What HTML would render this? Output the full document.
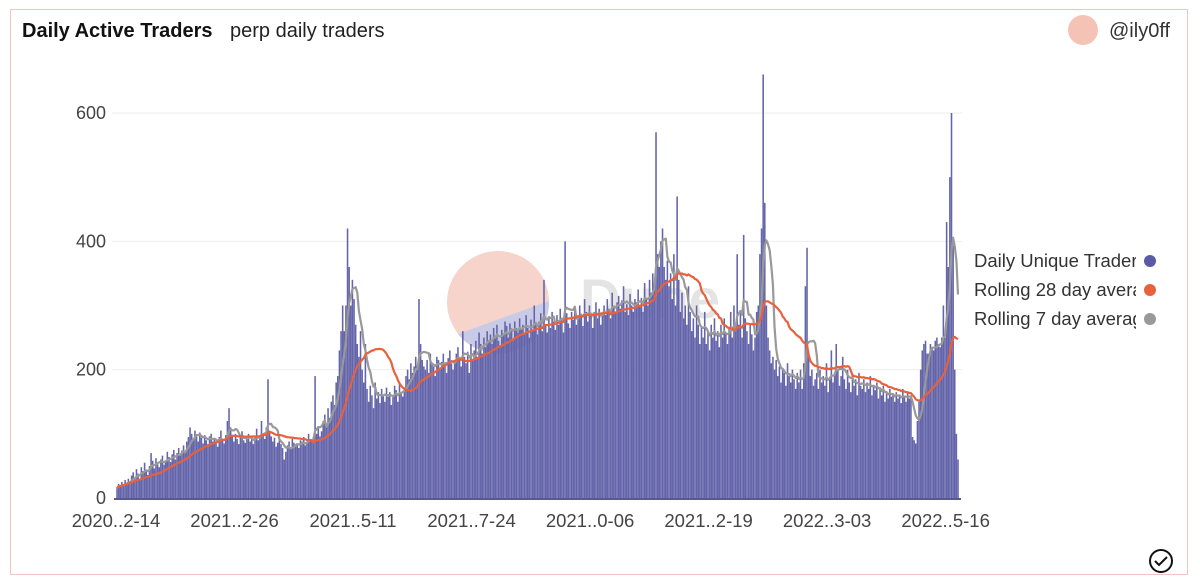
<!DOCTYPE html>
<html><head><meta charset="utf-8"><style>
body{margin:0;width:1200px;height:583px;background:#fff;font-family:"Liberation Sans",sans-serif;overflow:hidden}
#frame{position:absolute;left:10px;top:9px;width:1178px;height:566px;border:1.5px solid #f0c6be;box-sizing:border-box}
</style></head><body>
<div id="frame"></div>
<svg id="svg" width="1200" height="583" style="position:absolute;left:0;top:0">
<text x="22" y="37" font-size="20" font-weight="bold" fill="#111">Daily Active Traders</text>
<text x="230" y="37" font-size="20" fill="#222">perp daily traders</text>
<circle cx="1083" cy="30" r="15" fill="#f5c3b6"/>
<text x="1109" y="37" font-size="20" fill="#333">@ily0ff</text>
<g>
<circle cx="498" cy="302" r="51" fill="#f6d3cb"/>
<path d="M458,334 L549,301 A51,51 0 0 1 458,334 Z" fill="#c9cbe6"/>
<text x="580" y="318" font-size="56" font-weight="bold" fill="#e4e4e4">Dune</text>
</g>
<g id="grid"></g><g id="bars"></g><g id="lines"></g><g id="axes"></g>
<g>
<text x="974" y="267" font-size="18.5" fill="#333">Daily Unique Traders</text>
<rect x="1136" y="248" width="30" height="24" fill="#fff"/>
<circle cx="1150" cy="261" r="6" fill="#5a5aa6"/>
<text x="974" y="296" font-size="18.5" fill="#333">Rolling 28 day average</text>
<rect x="1136" y="277" width="30" height="24" fill="#fff"/>
<circle cx="1150" cy="290" r="6" fill="#e8603c"/>
<text x="974" y="325" font-size="18.5" fill="#333">Rolling 7 day average</text>
<rect x="1136" y="306" width="30" height="24" fill="#fff"/>
<circle cx="1150" cy="319" r="6" fill="#999"/>
</g>
<g><circle cx="1161" cy="561" r="11" fill="none" stroke="#111" stroke-width="2"/><path d="M1155,561 l4,4 l8,-8" fill="none" stroke="#111" stroke-width="2"/></g>
</svg>
<script>
const daily=[15,22,18,25,20,28,24,30,26,35,40,32,45,38,30,48,42,55,44,36,50,70,58,46,62,55,48,60,66,52,58,72,64,56,68,75,60,70,78,66,74,82,70,88,95,110,100,92,105,96,88,102,94,85,98,90,84,96,100,88,92,86,80,95,105,90,85,98,120,140,110,96,88,100,92,84,98,104,90,86,95,100,88,92,84,96,108,90,98,120,100,92,110,185,105,96,88,94,80,86,90,84,78,60,72,82,88,76,92,86,80,84,78,90,88,95,82,86,100,92,88,95,190,100,110,96,104,120,130,115,140,125,150,160,145,180,190,230,260,300,260,300,420,360,300,340,310,270,240,220,260,200,180,240,170,150,175,160,140,180,155,165,148,170,160,150,172,158,165,145,160,175,168,150,180,165,158,172,190,200,185,210,195,205,220,200,310,240,215,205,200,215,195,225,210,205,190,220,215,200,212,225,205,195,218,230,210,200,215,225,235,215,205,260,220,210,228,195,240,215,230,245,220,258,240,225,250,235,260,245,255,240,265,250,270,245,235,262,255,275,268,250,272,260,245,275,265,258,280,262,270,255,285,265,250,278,262,300,270,255,275,288,260,340,270,258,282,265,290,275,262,285,270,295,280,258,400,288,272,265,290,278,295,270,285,300,282,268,310,290,275,300,285,265,290,305,280,295,270,288,300,285,310,295,280,320,300,288,305,315,295,308,330,290,302,285,318,300,290,310,305,325,298,312,290,335,310,300,340,320,350,330,570,380,360,400,420,360,340,370,330,350,310,380,300,470,340,290,320,280,300,270,330,290,260,280,250,300,270,240,265,250,290,240,260,230,270,250,280,245,260,235,270,250,280,255,240,265,290,250,300,260,380,270,290,250,410,280,260,240,270,255,230,250,290,300,380,420,660,460,300,250,230,210,220,200,215,190,205,180,200,195,175,210,190,180,200,185,170,195,180,200,170,210,330,390,220,190,200,175,185,195,170,200,180,190,175,210,165,185,230,180,195,240,200,175,190,220,185,170,200,180,165,190,175,185,160,195,175,170,185,165,180,170,190,160,175,168,180,155,170,160,175,150,165,155,170,158,162,150,165,155,160,148,170,158,150,165,155,160,95,90,85,120,150,200,230,240,245,225,225,240,235,230,245,250,240,235,250,300,250,430,360,500,600,400,200,100,60];
const yTicks=[0,200,400,600];
const xTickLabels=["2020..2-14","2021..2-26","2021..5-11","2021..7-24","2021..0-06","2021..2-19","2022..3-03","2022..5-16"];
const xTickDays=[0,73,146,219,292,365,438,511];
const NS="http://www.w3.org/2000/svg";
const X0=117,X1=958,Y0=498,Y600=113;
const n=daily.length;
const x=d=>X0+d*(X1-X0)/(n-1);
const y=v=>Y0-v*(Y0-Y600)/600;
function mk(t,a,p){const e=document.createElementNS(NS,t);for(const k in a)e.setAttribute(k,a[k]);document.getElementById(p).appendChild(e);return e;}
yTicks.forEach(t=>{
 if(t>0){const g=mk('line',{x1:112,x2:962,y1:y(t),y2:y(t),stroke:'#eee','stroke-width':1},'grid');
 
 }
 const l=mk('text',{x:106,y:y(t)+6,'text-anchor':'end','font-size':18,fill:'#444'},'axes');l.textContent=t;
 
 
});
const bw=(X1-X0)/(n-1);
daily.forEach((v,i)=>{
 const r=mk('rect',{x:x(i)-bw*0.48,y:y(v),width:bw*0.96,height:Y0-y(v),fill:'#6464aa'},'bars');
 
 
});
function roll(w){return daily.map((v,i)=>{const s=daily.slice(Math.max(0,i-w+1),i+1);return s.reduce((a,b)=>a+b,0)/s.length;});}
const r7=roll(7),r28=roll(28);
function line(arr,col,name){const p=mk('path',{d:arr.map((v,i)=>(i?'L':'M')+x(i).toFixed(1)+','+y(v).toFixed(1)).join(''),fill:'none',stroke:col,'stroke-width':2.2,'stroke-linejoin':'round'},'lines');
 
 }
line(r7,'#999','rolling-7-day-line');
line(r28,'#e8603c','rolling-28-day-line');
const ax=mk('line',{x1:X0-3,x2:X1+3,y1:Y0+1,y2:Y0+1,stroke:'#22226a','stroke-width':1.5},'axes');


xTickLabels.forEach((s,i)=>{const t=mk('text',{x:x(xTickDays[i])-1,y:527,'text-anchor':'middle','font-size':18.5,fill:'#444'},'axes');t.textContent=s;
 
 });
</script>
</body></html>
